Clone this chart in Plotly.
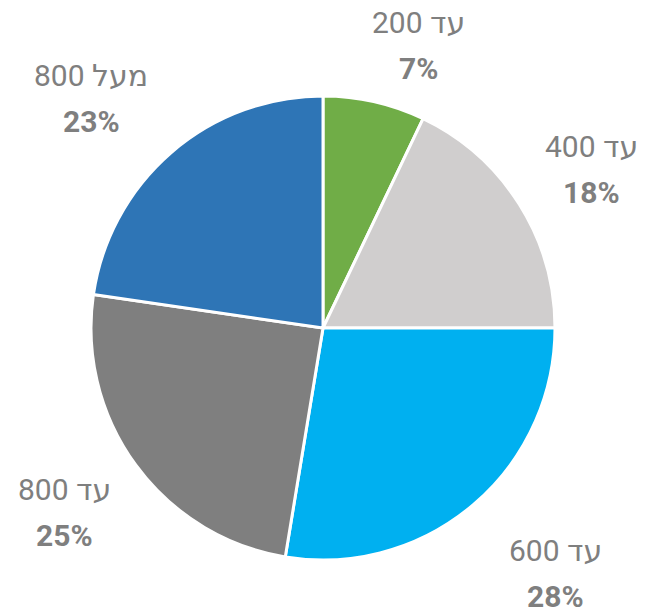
import math

import plotly.graph_objects as go

# נתונים
labels = ["עד 200", "עד 400", "עד 600", "עד 800", "מעל 800"]
values = [7.1, 17.9, 27.6, 24.7, 22.7]
colors = ["#70AD47", "#D0CECE", "#00B0F0", "#7F7F7F", "#2E75B6"]

PAGE = 8                            # margen por defecto del <body>
W, H = 646 - PAGE, 615 - PAGE
CX, CY, R = 323 - PAGE, 328 - PAGE, 232   # centro y radio del pastel (px)
GAP, HALF_W, HALF_H = 22, 55, 38    # separación de etiquetas
# ajuste fino de cada etiqueta (px), estilo "best fit" de Excel
nudges = [(28, 13), (-3, 13), (26, 3), (0, -5), (-23, 12)]
LINE = 23
TXT = "#7F7F7F"
FONT = "Roboto, 'DejaVu Sans', sans-serif"

fig = go.Figure(go.Pie(
    labels=labels,
    values=values,
    sort=False,
    direction="clockwise",
    rotation=0,
    marker=dict(colors=colors, line=dict(color="white", width=3)),
    textinfo="none",
    hoverinfo="label+percent",
    domain=dict(x=[(CX - R) / W, (CX + R) / W],
                y=[1 - (CY + R) / H, 1 - (CY - R) / H]),
    showlegend=False,
))

total = sum(values)
acc = 0.0
annotations = []
for lab, v, (nx, ny) in zip(labels, values, nudges):
    mid = (acc + v / 2) / total * 2 * math.pi
    acc += v
    dx, dy = math.sin(mid), -math.cos(mid)
    dist = R + GAP + HALF_W * abs(dx) + HALF_H * abs(dy)
    px = CX + dist * dx + nx
    py = CY + dist * dy + ny
    pct = f"{round(v / total * 100)}%"
    for text, off in (("\u200f" + lab, -LINE), (f"<b>{pct}</b>", LINE)):
        annotations.append(dict(
            x=px / W, y=1 - (py + off) / H, xref="paper", yref="paper",
            text=text, showarrow=False, xanchor="center", yanchor="middle",
            font=dict(family=FONT, size=30, color=TXT),
        ))

fig.update_layout(
    width=W, height=H,
    margin=dict(l=0, r=0, t=0, b=0),
    paper_bgcolor="white",
    plot_bgcolor="white",
    annotations=annotations,
)

fig.write_html("out.html")
